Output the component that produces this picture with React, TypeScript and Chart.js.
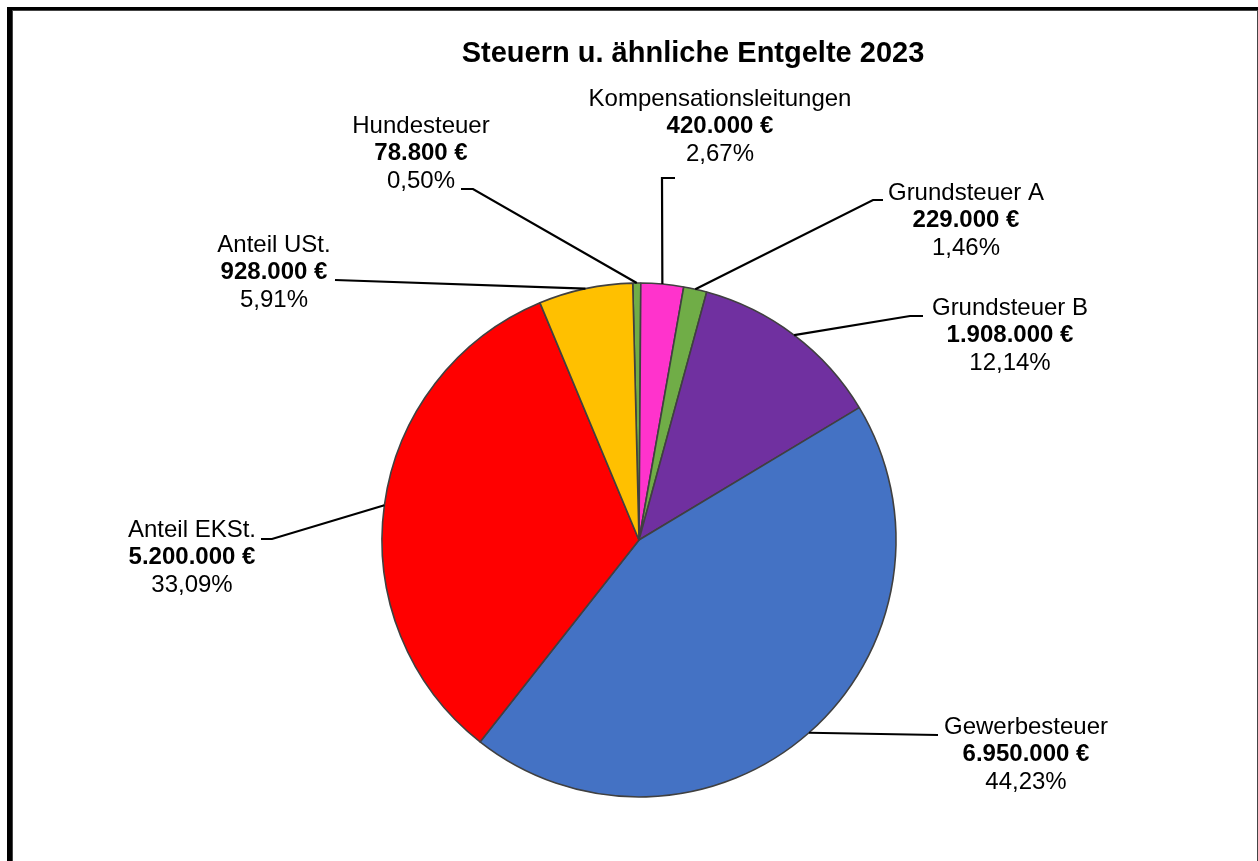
import React, { useEffect, useRef } from "react";
import { Chart, registerables } from "chart.js";

Chart.register(...registerables);

const chartTitle = "Steuern u. ähnliche Entgelte 2023";
const categories = [
  "Hundesteuer",
  "Kompensationsleitungen",
  "Grundsteuer A",
  "Grundsteuer B",
  "Gewerbesteuer",
  "Anteil EKSt.",
  "Anteil USt.",
];
const values = [78800, 420000, 229000, 1908000, 6950000, 5200000, 928000];
const sliceColors = ["#70AD47", "#FF33CC", "#70AD47", "#7030A0", "#4472C4", "#FF0000", "#FFC000"];

// Layout of the data labels relative to the pie centre (text = centre of first line,
// path = leader polyline points after the slice edge point)
const labelLayout = [
  { text: [-218, -414], path: [[-166, -351], [-178, -351]] },
  { text: [81, -441], path: [[23, -362], [36, -362]] },
  { text: [327, -347], path: [[234, -340], [244, -340]] },
  { text: [371, -232], path: [[271, -224], [284, -224]] },
  { text: [387, 187], path: [[299, 195]] },
  { text: [-447, -10], path: [[-367, -1], [-378, -1]] },
  { text: [-365, -295], path: [[-304, -260]] },
];

const FONT = '"Liberation Sans", Arial, sans-serif';

function fmtEuro(v: number): string {
  const s = Math.round(v).toString();
  return s.replace(/\B(?=(\d{3})+(?!\d))/g, ".") + " €";
}
function fmtPct(p: number): string {
  return p.toFixed(2).replace(".", ",") + "%";
}

const labelPlugin = {
  id: "excelLabels",
  afterDatasetsDraw(chart: any) {
    const ctx = chart.ctx as CanvasRenderingContext2D;
    const meta = chart.getDatasetMeta(0);
    const data = chart.data.datasets[0].data as number[];
    const total = data.reduce((a, b) => a + b, 0);
    ctx.save();
    ctx.fillStyle = "#000";
    ctx.textAlign = "center";
    ctx.textBaseline = "middle";
    ctx.font = `bold 29px ${FONT}`;
    ctx.fillText(chartTitle, 693, 54);

    meta.data.forEach((arc: any, i: number) => {
      const p = arc.getProps(["x", "y", "startAngle", "endAngle", "outerRadius"], true);
      const mid = (p.startAngle + p.endAngle) / 2;
      const sx = p.x + Math.cos(mid) * p.outerRadius;
      const sy = p.y + Math.sin(mid) * p.outerRadius;
      const lay = labelLayout[i];
      ctx.beginPath();
      ctx.moveTo(sx, sy);
      lay.path.forEach((pt) => ctx.lineTo(p.x + pt[0], p.y + pt[1]));
      ctx.strokeStyle = "#000";
      ctx.lineWidth = 2.2;
      ctx.stroke();

      const tx = p.x + lay.text[0];
      const ty = p.y + lay.text[1];
      const lh = 27.5;
      ctx.fillStyle = "#000";
      ctx.font = `24px ${FONT}`;
      ctx.fillText(categories[i], tx, ty);
      ctx.font = `bold 24px ${FONT}`;
      ctx.fillText(fmtEuro(data[i]), tx, ty + lh);
      ctx.font = `24px ${FONT}`;
      ctx.fillText(fmtPct((data[i] / total) * 100), tx, ty + 2 * lh);
    });
    ctx.restore();
  },
};

export default function App() {
  const ref = useRef<HTMLCanvasElement | null>(null);
  useEffect(() => {
    if (!ref.current) return;
    const chart = new Chart(ref.current, {
      type: "pie",
      data: {
        labels: categories,
        datasets: [
          {
            data: values,
            backgroundColor: sliceColors,
            borderColor: "#404040",
            borderWidth: 1.6,
            radius: 257,
          } as any,
        ],
      },
      options: {
        responsive: false,
        animation: false,
        rotation: -1.4,
        layout: { padding: { left: 300, right: 280, top: 280, bottom: 61 } },
        plugins: {
          legend: { display: false },
          tooltip: { enabled: false },
          title: { display: false },
        },
      },
      plugins: [labelPlugin],
    });
    return () => chart.destroy();
  }, []);

  return (
    <div>
      <div
        style={{
          position: "fixed",
          left: 7,
          top: 7,
          width: 1251,
          height: 900,
          boxSizing: "border-box",
          borderTop: "3px solid #000",
          borderLeft: "5px solid #000",
          background: "#fff",
        }}
      >
        <div
          style={{
            height: "100%",
            boxSizing: "border-box",
            borderTop: "1px solid #444",
            borderLeft: "1px solid #444",
            borderRight: "1px solid #444",
          }}
        />
      </div>
      <canvas
        ref={ref}
        width={1258}
        height={861}
        style={{ position: "fixed", left: 0, top: 0, width: 1258, height: 861 }}
      />
    </div>
  );
}
